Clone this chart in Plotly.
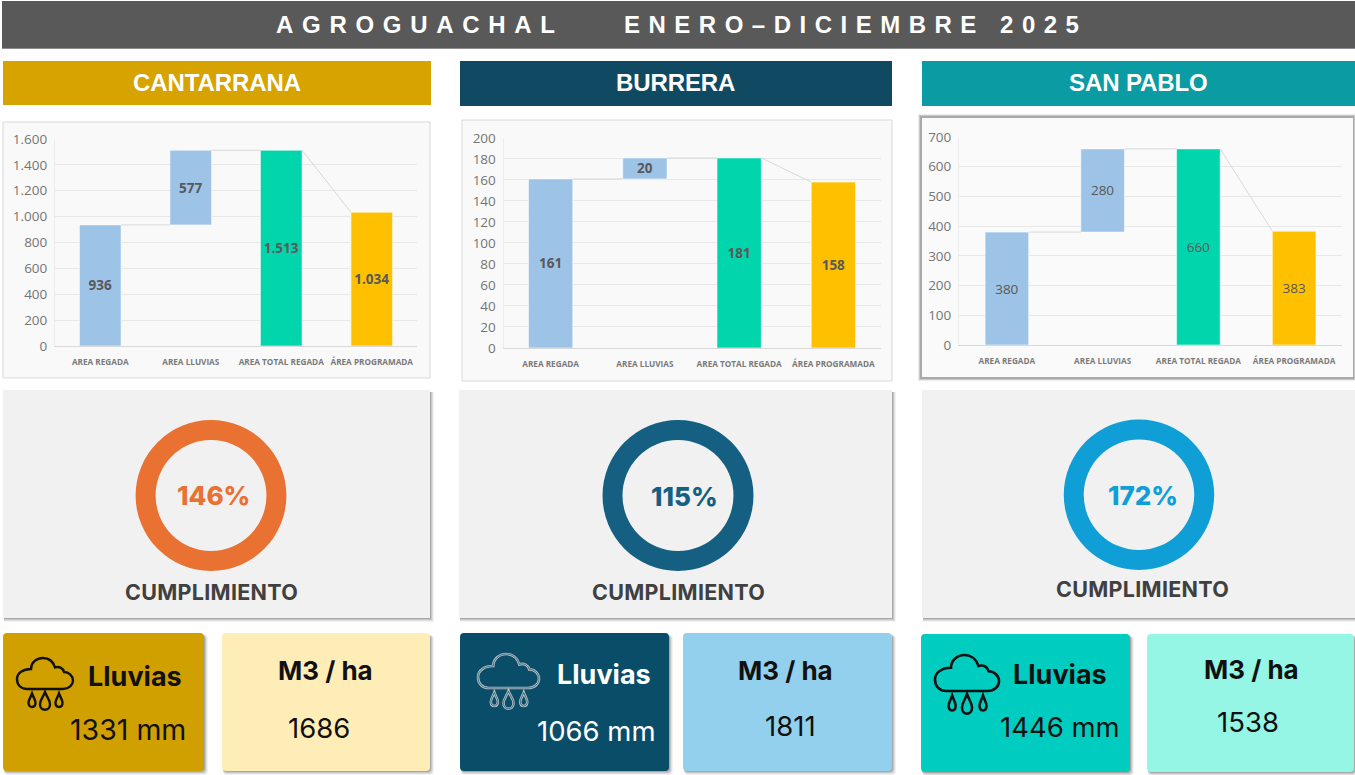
import plotly.graph_objects as go

W, H = 1355, 775

# ---------- data ----------
categories = ["AREA REGADA", "AREA LLUVIAS", "AREA TOTAL REGADA", "ÁREA PROGRAMADA"]
farm_names = ["CANTARRANA", "BURRERA", "SAN PABLO"]
cantarrana_values = [936, 577, 1513, 1034]
burrera_values = [161, 20, 181, 158]
san_pablo_values = [380, 280, 660, 383]
cumplimiento = [146, 115, 172]
lluvias_mm = [1331, 1066, 1446]
m3_ha = [1686, 1811, 1538]
title_left = "AGROGUACHAL"
title_right = "ENERO–DICIEMBRE 2025"

# ---------- styles ----------
BLUE, GREEN, YELLOW = "#9DC3E6", "#00D5AC", "#FFC000"
bar_colors = [BLUE, BLUE, GREEN, YELLOW]
SANS = "Inter"
ARIAL = "Liberation Sans"
CARD_GREY = "#F1F1F1"


def fx(x):
    return round(x / W, 5)


def fy(y):
    return round(1 - y / H, 5)


def svg(cmds):
    out = []
    for c in cmds:
        if c == "Z":
            out.append("Z")
        else:
            out.append(c[0] + " ".join(f"{fx(p[0])},{fy(p[1])}" for p in c[1:]))
    return " ".join(out)


shapes, annotations = [], []


def rect(x0, y0, x1, y1, fill, line=None, lw=1, layer="below"):
    shapes.append(dict(type="rect", xref="paper", yref="paper", x0=fx(x0), x1=fx(x1), y0=fy(y1), y1=fy(y0),
                       fillcolor=fill, line=dict(color=line or "rgba(0,0,0,0)", width=lw if line else 0), layer=layer))


def rrect_path(x0, y0, x1, y1, r):
    return svg([("M", (x0 + r, y0)), ("L", (x1 - r, y0)), ("Q", (x1, y0), (x1, y0 + r)), ("L", (x1, y1 - r)),
                ("Q", (x1, y1), (x1 - r, y1)), ("L", (x0 + r, y1)), ("Q", (x0, y1), (x0, y1 - r)), ("L", (x0, y0 + r)),
                ("Q", (x0, y0), (x0 + r, y0)), "Z"])


def rrect(x0, y0, x1, y1, r, fill):
    shapes.append(dict(type="path", xref="paper", yref="paper", path=rrect_path(x0, y0, x1, y1, r),
                       fillcolor=fill, line=dict(width=0), layer="below"))


def shadow(x0, y0, x1, y1, r=3):
    for k, a in ((4, 0.05), (3, 0.08), (2, 0.11), (1, 0.15)):
        rrect(x0 + 1, y0 + 2, x1 + k, y1 + k, r, f"rgba(0,0,0,{a})")


def label(x, y, text, size, color, family=SANS, weight=400):
    annotations.append(dict(xref="paper", yref="paper", x=fx(x), y=fy(y), text=text, showarrow=False,
                            xanchor="center", yanchor="middle",
                            font=dict(family=family, size=size, color=color, weight=weight)))


def icon(x0, y0, x1, y1, drop_bottom, color, width=2.0, double=None):
    sx, sy = (x1 - x0) / 56, (y1 - y0) / 31
    p = lambda a, b: (x0 + a * sx, y0 + b * sy)
    cloud = [("M", p(10, 31)), ("L", p(46, 31)),
             ("C", p(52, 31), p(56, 27), p(56, 22.5)), ("C", p(56, 18), p(52, 14), p(47, 14)),
             ("C", p(46, 10), p(42, 8), p(38, 9.5)), ("C", p(36, 3), p(31, 0), p(26, 0)),
             ("C", p(19, 0), p(14, 5), p(14, 11)), ("C", p(6, 11), p(0, 15), p(0, 21)),
             ("C", p(0, 27), p(4, 31), p(10, 31)), "Z"]
    paths = [cloud]
    y_base = y1 + 3
    for rel, top_off, w in ((15, 1.5, 7), (28, 0, 10), (42, 1.5, 7)):
        cx = x0 + rel * sx
        t = y_base + top_off
        h = (drop_bottom - y_base) * (0.76 if w == 7 else 1.0)
        paths.append([("M", (cx, t)),
                      ("C", (cx + w * .2, t + h * .3), (cx + w / 2, t + h * .45), (cx + w / 2, t + h * .68)),
                      ("C", (cx + w / 2, t + h * 1.09), (cx - w / 2, t + h * 1.09), (cx - w / 2, t + h * .68)),
                      ("C", (cx - w / 2, t + h * .45), (cx - w * .2, t + h * .3), (cx, t)), "Z"])
    for pth in paths:
        shapes.append(dict(type="path", xref="paper", yref="paper", path=svg(pth), fillcolor="rgba(0,0,0,0)",
                           line=dict(color=color, width=width), layer="above"))
        if double:
            shapes.append(dict(type="path", xref="paper", yref="paper", path=svg(pth), fillcolor="rgba(0,0,0,0)",
                               line=dict(color=double, width=0.7), layer="above"))


# ---------- banner ----------
rect(2, 1, 1355, 49, "#8C8C8C")
rect(2, 1, 1355, 48, "#595959")
spaced = lambda t, s: f'<span style="letter-spacing:{s}px">{t}</span>'
label(420, 24, spaced(title_left, 8.7), 24, "#FFFFFF", ARIAL, 700)
label(855, 24, spaced(title_right, 8.5), 24, "#FFFFFF", ARIAL, 700)

# ---------- section headers ----------
headers = [(3, 431, 61, 105, "#D6A300"), (460, 892, 61, 106, "#104962"), (922, 1355, 61, 106, "#0A9BA3")]
header_tx = [217, 676, 1139]
for (x0, x1, y0, y1, col), name, tx in zip(headers, farm_names, header_tx):
    rect(x0, y0, x1, y1, col)
    label(tx, 82.5, spaced(name, -0.1), 24, "#FFFFFF", ARIAL, 700)

# ---------- chart panels ----------
panels = [
    dict(card=(3, 122, 430, 378), plot=(55, 139, 417, 346), vals=cantarrana_values, dtick=200, top=1600,
         barw=0.46, bold=True),
    dict(card=(462, 120, 892, 381), plot=(503.5, 138, 880.5, 348), vals=burrera_values, dtick=20, top=200,
         barw=0.47, bold=True),
    dict(card=(922, 118, 1353, 377), plot=(959, 137, 1342, 345), vals=san_pablo_values, dtick=100, top=700,
         barw=0.455, bold=False),
]

fig = go.Figure()
layout_axes = {}
for i, pn in enumerate(panels):
    x0, y0, x1, y1 = pn["card"]
    if i == 2:
        rect(x0 - 4, y0 - 4, x1 + 2, y1 + 4, "#EDEDED")
        rect(x0 - 3, y0 - 3, x1 + 2, y1 + 3, "#C8C8C8")
        rect(x0 - 2, y0 - 2, x1 + 1, y1 + 2, "#A9A9A9")
        rect(x0, y0, x1, y1, "#FAFAFA")
    else:
        rect(x0, y0, x1, y1, "#F9F9F9", "#D9D9D9", 1)
    px0, py0, px1, py1 = pn["plot"]
    suffix = "" if i == 0 else str(i + 1)
    xa, ya = f"x{suffix}", f"y{suffix}"
    v = pn["vals"]
    bases = [0, v[0], 0, 0]
    fig.add_trace(go.Bar(
        x=list(range(4)), y=v, base=bases, width=pn["barw"], xaxis=xa, yaxis=ya,
        marker=dict(color=bar_colors, line=dict(color="rgba(255,255,255,0.55)", width=1)),
        text=[f"{n:,d}".replace(",", ".") for n in v], textposition="inside", insidetextanchor="middle",
        textangle=0, constraintext="none", cliponaxis=False,
        textfont=dict(family="Open Sans", size=13.5, color="#595959", weight=700 if pn["bold"] else 500),
        hoverinfo="skip", showlegend=False))
    hw = pn["barw"] / 2
    fig.add_trace(go.Scatter(
        x=[0 + hw, 1 - hw, None, 1 + hw, 2 - hw, None, 2 + hw, 3 - hw],
        y=[v[0], v[0], None, v[2], v[2], None, v[2], v[3]],
        mode="lines", line=dict(color="#D9D9D9", width=1), xaxis=xa, yaxis=ya, hoverinfo="skip", showlegend=False))
    layout_axes[f"xaxis{suffix}"] = dict(
        domain=[fx(px0), fx(px1)], range=[-0.5, 3.5], anchor=ya, tickmode="array", tickvals=list(range(4)),
        ticktext=categories, tickangle=0, showgrid=False, zeroline=False, showline=True, linecolor="#D9D9D9",
        ticks="outside", ticklen=8, tickcolor="rgba(0,0,0,0)", automargin=False,
        tickfont=dict(family="Open Sans", size=8.2, color="#7A7A7A", weight=700))
    layout_axes[f"yaxis{suffix}"] = dict(
        domain=[fy(py1), fy(py0)], range=[0, pn["top"]], anchor=xa, dtick=pn["dtick"], tick0=0, tickformat=",d",
        showgrid=True, gridcolor="#E8E8E8", gridwidth=1, zeroline=False, showline=True, linecolor="#EDEDED",
        ticks="outside", ticklen=4, tickcolor="rgba(0,0,0,0)", automargin=False,
        tickfont=dict(family="Open Sans", size=13.5, color="#757575"))

# ---------- compliance cards ----------
cards = [(3, 390, 430, 618), (459, 390, 892, 618), (922, 390, 1356, 618)]
donuts = [(211, 495.5, 75.4), (678, 495.5, 75.5), (1139, 494.8, 75.2)]
donut_colors = ["#E97132", "#156082", "#0F9ED5"]
pct_pos = [(213, 495), (684, 496), (1143.5, 495)]
cump_pos = [(211, 592), (678, 592), (1143, 589)]
for c, d, col, val, pp, cp in zip(cards, donuts, donut_colors, cumplimiento, pct_pos, cump_pos):
    shadow(c[0], c[1], c[2], c[3], r=0)
    rect(*c, CARD_GREY)
    cx, cy, r = d
    fig.add_trace(go.Pie(
        values=[val], hole=0.735, sort=False, textinfo="none", hoverinfo="skip", showlegend=False,
        marker=dict(colors=[col], line=dict(width=0)),
        domain=dict(x=[fx(cx - r), fx(cx + r)], y=[fy(cy + r), fy(cy - r)])))
    label(pp[0], pp[1], f"{val}%", 26, col, SANS, 800)
    label(cp[0], cp[1], spaced("CUMPLIMIENTO", 0.3), 21.5, "#404040", SANS, 700)

# ---------- bottom KPI cards ----------
kpi_dark = [(3, 633, 204, 771, "#D09F00"), (460, 633, 669, 771, "#0A4D68"), (921, 634, 1130, 772, "#00CCC0")]
kpi_light = [(222, 633, 430, 771, "#FFEDB8"), (683, 633, 892, 771, "#93D0EE"), (1147, 634, 1354, 772, "#96F6E6")]
for (x0, y0, x1, y1, col) in kpi_dark + kpi_light:
    shadow(x0, y0, x1, y1, r=4)
    rrect(x0, y0, x1, y1, 4, col)

lluvias_pos = [(135, 676), (604, 674), (1060, 674)]
mm_pos = [(128, 729), (596.5, 731), (1060, 727)]
m3_pos = [(325.5, 670), (786, 670), (1251, 669)]
m3v_pos = [(319, 728), (790, 726), (1248, 722)]
mm_sizes = [28.5, 27.5, 27.5]
dark_text = ["#111111", "#FFFFFF", "#111111"]
for i in range(3):
    label(*lluvias_pos[i], "Lluvias", 27, dark_text[i], SANS, 700)
    label(*mm_pos[i], f"{lluvias_mm[i]} mm", mm_sizes[i], dark_text[i], SANS, 400)
    label(*m3_pos[i], "M3 / ha", 26, "#111111", SANS, 700)
    label(*m3v_pos[i], f"{m3_ha[i]}", 27.5, "#111111", SANS, 400)

icon(17, 658, 73, 689, 710, "#111111", 2.4)
icon(478, 654, 539, 688, 709, "#B9BFC4", 2.6, double="#0A4D68")
icon(935, 655, 999, 691, 714, "#111111", 2.6)

fig.update_layout(
    width=W, height=H, margin=dict(l=0, r=0, t=0, b=0, pad=0), autosize=False,
    paper_bgcolor="#FFFFFF", plot_bgcolor="rgba(0,0,0,0)", separators=",.",
    barmode="overlay", showlegend=False, shapes=shapes, annotations=annotations,
    font=dict(family=SANS), **layout_axes)

fig.write_html("out.html", config=dict(displayModeBar=False),
               post_script="document.body.style.margin='0';document.documentElement.style.overflow='hidden';")
